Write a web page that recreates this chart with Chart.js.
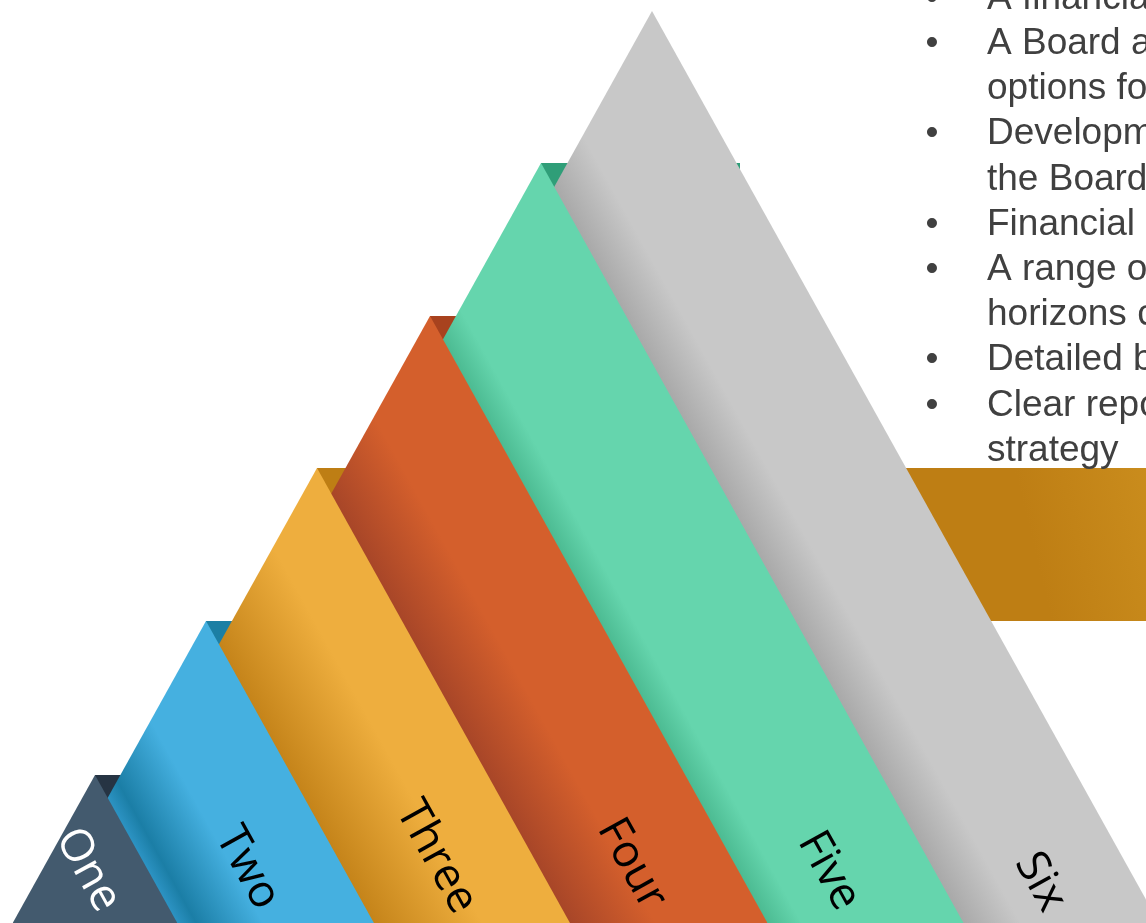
<!DOCTYPE html>
<html>
<head>
<meta charset="utf-8">
<script src="https://cdn.jsdelivr.net/npm/chart.js@4"></script>
<style>
  html, body { margin: 0; padding: 0; background: #fff; }
  #wrap { width: 1146px; height: 923px; position: relative; overflow: hidden; }
</style>
</head>
<body>
<div id="wrap"><canvas id="pyramid"></canvas></div>
<script>
// tiers, front (One) to back (Six)
const tierLabels = ['One', 'Two', 'Three', 'Four', 'Five', 'Six'];
const apexX = [95, 206, 317, 430, 541, 652];
const apexY = [775, 621, 468, 316, 163, 11];
// the folded ribbon behind each tier runs right to here
const bandEndX = [300, 420, 1146, 700, 740];
const edgeSlope = 0.556; // x run per unit of drop along the tier edges

const bulletItems = [
  ['A financia'],
  ['A Board a', 'options fo'],
  ['Developm', 'the Board'],
  ['Financial'],
  ['A range o', 'horizons c'],
  ['Detailed b'],
  ['Clear repo', 'strategy']
];

const X_MAX = 1146, Y_MAX = 923;

// styles
const faceColor = ['#435a6e', '#45b0e0', '#eeae3e', '#d45f2c', '#65d5ad', '#c8c8c8'];
const shadeWidth = [0, 75, 95, 75, 30, 50];
const shadeStops = [
  null,
  [[0, '#2c93c3'], [0.22, '#1b7ea6'], [1, '#45b0e0']],
  [[0, '#c5841a'], [1, '#eeae3e']],
  [[0, '#a84628'], [1, '#d45f2c']],
  [[0, '#4cbb92'], [1, '#65d5ad']],
  [[0, '#a9a9a9'], [1, '#c8c8c8']]
];
const tabColor = ['#263443', '#1c7fa4', null, '#a8421e', '#2f9e78'];
const labelColor = ['#ffffff', '#000000', '#000000', '#000000', '#000000', '#000000'];
const labelY = [870, 868, 857, 864, 871, 882];
const labelInset = [60, 96, 97, 103, 106, 96];

function faceFill(i) {
  return (ctx) => {
    const chart = ctx.chart;
    const sx = chart.scales.x, sy = chart.scales.y;
    if (i === 0 || !chart.chartArea || !sx || !sy) return faceColor[i];
    const px = sx.getPixelForValue(apexX[i - 1]);
    const py = sy.getPixelForValue(apexY[i - 1]);
    const n = Math.hypot(1, edgeSlope);
    const len = shadeWidth[i];
    const g = chart.ctx.createLinearGradient(px, py, px + len / n, py - len * edgeSlope / n);
    shadeStops[i].forEach(([o, c]) => g.addColorStop(o, c));
    return g;
  };
}

function tabFill(i) {
  if (tabColor[i]) return tabColor[i];
  return (ctx) => {
    const chart = ctx.chart;
    if (!chart.chartArea) return '#c0801a';
    const sx = chart.scales.x;
    const g = chart.ctx.createLinearGradient(sx.getPixelForValue(900), 0, sx.getPixelForValue(X_MAX), -60);
    g.addColorStop(0, '#be7e14');
    g.addColorStop(1, '#d59a25');
    return g;
  };
}

const datasets = [];

tierLabels.forEach((name, i) => {
  const drop = Y_MAX - apexY[i];
  datasets.push({
    label: name,
    data: [
      {x: apexX[i] - edgeSlope * drop, y: Y_MAX},
      {x: apexX[i], y: apexY[i]},
      {x: apexX[i] + edgeSlope * drop, y: Y_MAX}
    ],
    showLine: true,
    fill: 'start',
    backgroundColor: faceFill(i),
    borderColor: 'transparent',
    borderWidth: 0,
    pointRadius: 0,
    pointHoverRadius: 0,
    order: i
  });
});

bandEndX.forEach((endX, i) => {
  const bottom = i === 0 ? Y_MAX : apexY[i - 1];
  datasets.push({
    label: tierLabels[i] + ' band',
    data: [{x: apexX[i], y: apexY[i]}, {x: endX, y: apexY[i]}],
    showLine: true,
    fill: {value: bottom},
    backgroundColor: tabFill(i),
    borderColor: 'transparent',
    borderWidth: 0,
    pointRadius: 0,
    pointHoverRadius: 0,
    order: 20 + i
  });
});

const textPlugin = {
  id: 'pyramidText',
  afterDraw(chart) {
    const ctx = chart.ctx;
    const sx = chart.scales.x, sy = chart.scales.y;
    const angle = Math.atan2(1, edgeSlope);

    // tier labels along the strips
    ctx.save();
    ctx.font = '45px "Open Sans"';
    ctx.textAlign = 'center';
    ctx.textBaseline = 'middle';
    tierLabels.forEach((name, i) => {
      const y = labelY[i];
      const x = apexX[i] + edgeSlope * (y - apexY[i]) - labelInset[i];
      ctx.save();
      ctx.translate(sx.getPixelForValue(x), sy.getPixelForValue(y));
      ctx.rotate(angle);
      ctx.fillStyle = labelColor[i];
      ctx.fillText(name, 0, 0);
      ctx.restore();
    });
    ctx.restore();

    // bullet list, top right
    ctx.save();
    ctx.font = '37px "Liberation Sans", Arial, sans-serif';
    ctx.fillStyle = '#404040';
    ctx.textBaseline = 'alphabetic';
    let line = 0;
    bulletItems.forEach(item => {
      item.forEach((txt, j) => {
        const base = 8.8 + 45.2 * line;
        if (j === 0) {
          ctx.textAlign = 'center';
          ctx.fillText('\u2022', 932, base);
        }
        ctx.textAlign = 'left';
        ctx.fillText(txt, 987, base);
        line++;
      });
    });
    ctx.restore();
  }
};

new Chart(document.getElementById('pyramid').getContext('2d'), {
  type: 'scatter',
  data: {datasets},
  options: {
    responsive: true,
    maintainAspectRatio: false,
    animation: false,
    events: [],
    layout: {padding: 0},
    scales: {
      x: {type: 'linear', min: 0, max: X_MAX, display: false},
      y: {type: 'linear', min: 0, max: Y_MAX, reverse: true, display: false}
    },
    plugins: {
      legend: {display: false},
      tooltip: {enabled: false}
    }
  },
  plugins: [textPlugin]
});
</script>
</body>
</html>
